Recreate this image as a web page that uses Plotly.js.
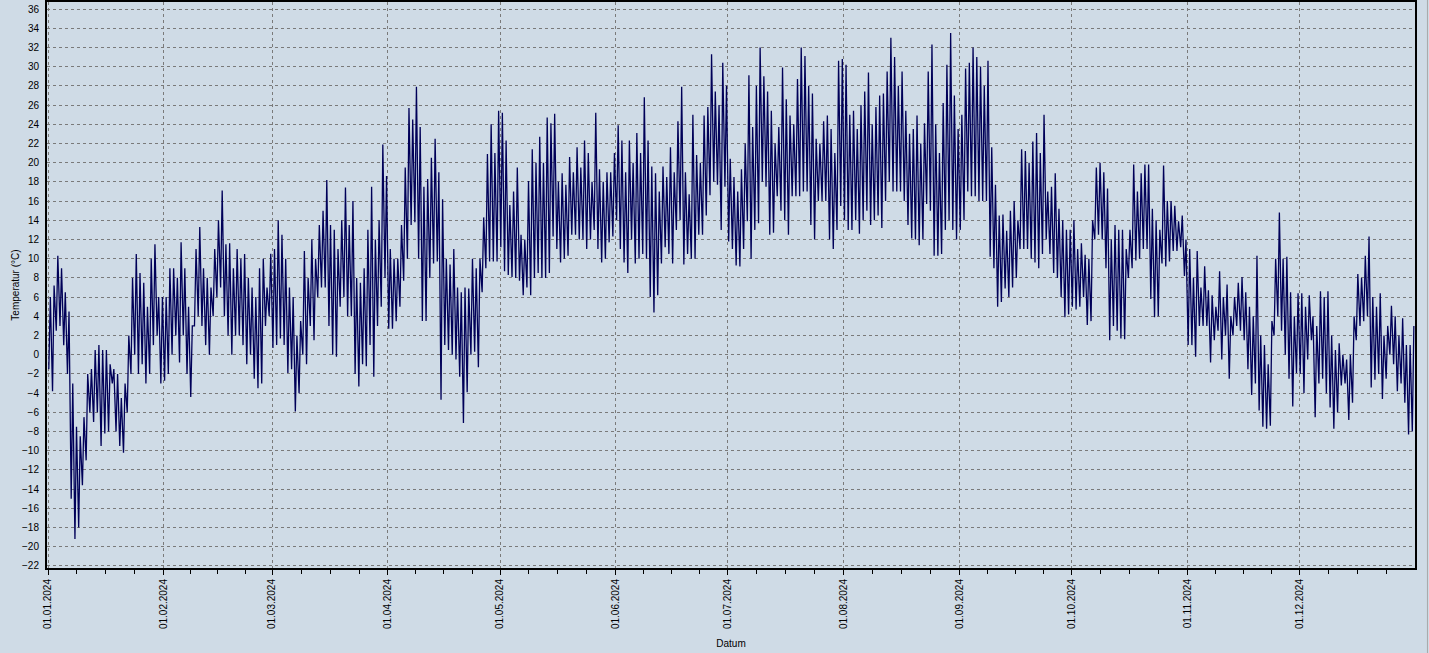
<!DOCTYPE html>
<html>
<head>
<meta charset="utf-8">
<script src="https://cdn.plot.ly/plotly-3.0.1.min.js"></script>
<style>
  html, body { margin: 0; padding: 0; background: #cfdbe6; }
  #chart { width: 1429px; height: 653px; }
</style>
</head>
<body>
<div id="chart"></div>
<script>
// Daily minimum / maximum temperatures (°C), 2024
const monthKeys = ['01','02','03','04','05','06','07','08','09','10','11','12'];
const tickLabels = ['01.01.2024','01.02.2024','01.03.2024','01.04.2024','01.05.2024','01.06.2024',
                    '01.07.2024','01.08.2024','01.09.2024','01.10.2024','01.11.2024','01.12.2024'];

const minJan = [-1.5,-3.8,2.5,3,1,-2,-15,-19.2,-18,-13.6,-11,-6,-7,-6,-9.5,-8.2,-8,-3,-8,-9.5,-10.2,-6,-2,0,-2,-1,-3,-2,1,2,-3];
const maxJan = [6,7.2,10.3,9,6.5,4.5,-3,-7.5,-8.5,-6.5,-2,-1.5,0.5,1,0.5,0.5,-1,-1.5,-2,-4.5,-3,2,8,10.5,8.5,7.5,5,10,11.5,6,6];
const minFeb = [-2.7,-2,0,2,-0.8,2,-2,-4.4,3,4,3,1,0,4,6,7,4,2,0,2,2,1,-1,0,-2.5,-3.5,-3,3,4];
const maxFeb = [6,9,9,8,11.7,9,5,3,11,13.3,9,8,7,11,14,17.1,11.5,11.6,9,11,10,10.5,8,7,6,9,10,7,10.5];
const minMar = [0.7,1,1.7,1,-1.9,-1.5,-5.9,-4,0,-1,3,1.5,6,7,7,3,0,-0.2,5,6,4,4,-2,-3.3,-1,-1.2,1,-2.3,3,5,8];
const maxMar = [11,14,12.5,10,7,6,2,3.5,10.8,8,12,10,13.5,15,18.2,13.5,13,11,14,17.4,13.5,16,8,7.5,9,13,17.5,12,14,21.9,18.6];
const minApr = [2.7,2.7,3.5,5,7.7,10,13.5,13.8,10,3.5,3.5,8,9.5,9.7,-4.7,1,0.5,0,-0.5,-2.3,-7.1,-3.9,0,0.3,-1.3,6.5,9,9.7,9.7,9.7];
const maxApr = [11,10,10,13.5,19.5,25.7,24.5,27.9,23.7,17.5,18.3,20.5,22.5,19,16.2,10,9.4,11,7,6.5,7,6.9,10,9,10,14.3,20.9,24,21,25.4];
const minMay = [11.2,8.7,8.3,8.1,8,7.7,6.2,7,6.2,8,8.5,8,8,8.5,12.3,11,9.6,10,10.3,12.5,12.5,12,12,11,12,13,11,9.6,10,11.7,12.3];
const maxMay = [25.2,22.3,15.6,17,19.5,12.5,12,18.1,21.4,20,22.7,20,24.7,24.1,25.1,18,18.9,17.7,20.6,19,21.6,19.5,22.3,21,18,25.2,19.3,18,19,19,21];
const minJun = [14,11,9.6,8.5,12,9.5,10,10.5,10,6,4.4,6.2,9.5,11.2,10.5,9.5,13,14,9.4,10.5,10,10,12.5,12.5,14.5,16.6,18,17.7,13,17.5];
const maxJun = [23.9,22.3,19,22.3,20,23.1,21,26.8,22.3,19.6,18.9,17,19.6,18.5,21.6,19,24.3,27.9,19,16.7,25,20.8,20,24.9,25.8,31.3,27.4,26,30.4,28];
const minJul = [11.8,11,9.3,9.2,11,13.9,10,13,13.7,18,17.5,12.5,12.7,16.5,15,14,12.5,16.5,16.5,16.5,17,17,13.5,12,16,16,16,12,11,13,15.5];
const maxJul = [20.4,18.5,17,19.3,22,29.1,23.7,28,32,29,27.4,25.4,22,23.7,29.9,26.6,24.9,24,28.7,32,31.1,28,27.2,22.5,22,24.3,24.9,23.5,21,30.6,30.8];
const minAug = [14,13,13,14,12.6,14,15,13.5,14,14.5,13.2,16,18,17,17,17,16,13.5,12.1,12,11.4,12,15.7,15,10.3,10.3,10.5,13,14,13,12];
const maxAug = [30.2,25,25.4,23.5,26,27.4,29.4,24,25.8,27,27.2,29.5,33,31,28,29.5,25.4,23,23.5,24.9,22,24.1,29.5,32.3,24,21,26.2,30.2,33.5,27,23.5];
const minSep = [13,14,17,16.5,16.5,16,16,16,10.2,9,5,5.5,6.9,6,7,8,11,11,11,10,9.6,9,10.5,12,10.5,8.5,8,6,3.9,4.2];
const maxSep = [25,29.8,30.4,32,31,30,28,30.6,21.6,17.7,14.5,14.6,12.9,15,16,14,21.4,21.2,20,22.2,23.1,21,25,17,17.5,18.9,15.2,14,13,13];
const minOct = [5,4.7,5,6,3.1,3.5,12,12.5,12,9,1.5,3,2.5,1.7,1.6,8,9,9.8,10,11,11,5.8,3.9,4,9.5,9.2,9.7,10.8,10.8,11.2,8.2];
const maxOct = [14,11,11.6,10.4,10,14,19.5,20,19,17.3,12,13.5,13,13,11,13,19.8,17,18.9,19.8,19.8,15.2,14,13,19.7,16,16,15.5,13.9,14.5,12];
const minNov = [1,1,-0.2,3,3,3,-0.8,1.5,2.5,-0.5,2,-2.5,2,3,2.5,1.5,-1.5,-4.2,-3,-5.8,-7.5,-7.7,-7.4,2,4,2.5,0,-2.5,-5.4,-1.9];
const maxNov = [11,8,10.8,7,9.2,6.7,6.2,5,8.7,6,7.3,4,6,7.5,8.1,6.5,5,4,10.3,2,1,-1,3.5,10,14.8,10,10.2,6.5,4,6.4];
const minDec = [-2,-4,-0.5,1.5,-6.5,-3,-2.5,-4,-5.5,-7.7,-6,-3.2,-3,-6.8,-5,1.5,3,3.5,4,-3.4,-2.6,-2,-4.6,-2.5,0,-1,-3.8,-3,-5,-8.3,-8];
const maxDec = [6.4,5,6.2,4,3,6.6,6,6.6,2,0.5,1.2,0,-0.5,0,4,8.4,8,10.3,12.3,6,5,6.4,2,3,5.1,4,2,3.8,1,1,3];

const mins = [minJan,minFeb,minMar,minApr,minMay,minJun,minJul,minAug,minSep,minOct,minNov,minDec];
const maxs = [maxJan,maxFeb,maxMar,maxApr,maxMay,maxJun,maxJul,maxAug,maxSep,maxOct,maxNov,maxDec];

const xs = [], ys = [];
mins.forEach((mArr, m) => {
  mArr.forEach((v, d) => {
    const dd = String(d + 1).padStart(2, '0');
    xs.push(`2024-${monthKeys[m]}-${dd} 05:00`); ys.push(v);
    xs.push(`2024-${monthKeys[m]}-${dd} 15:00`); ys.push(maxs[m][d]);
  });
});

const monthStarts = monthKeys.map(k => `2024-${k}-01`);
// minor ticks: quarter subdivisions of each month
const minorVals = [];
monthKeys.forEach((k, m) => {
  const start = new Date(Date.UTC(2024, m, 1));
  const end = new Date(Date.UTC(2024, m + 1, 1));
  const step = (end - start) / 4;
  for (let q = 1; q < 4; q++) {
    const t = new Date(start.getTime() + q * step);
    minorVals.push(t.toISOString().slice(0, 19).replace('T', ' '));
  }
});

const bg = '#cfdbe6';
const gridCol = '#7a7a7a';
const font = { family: 'Liberation Sans, Arial, sans-serif', size: 10, color: '#000' };

const trace = {
  type: 'scatter', mode: 'lines', x: xs, y: ys,
  line: { color: '#000058', width: 1.3 },
  hoverinfo: 'skip'
};

const layout = {
  width: 1429, height: 653,
  margin: { l: 47, r: 14, t: 2, b: 85 },
  paper_bgcolor: bg, plot_bgcolor: bg,
  font: font,
  showlegend: false,
  xaxis: {
    type: 'date',
    range: ['2023-12-31 17:30', '2024-12-31 22:20'],
    tickmode: 'array', tickvals: monthStarts, ticktext: tickLabels,
    tickangle: -90, ticks: 'outside', ticklen: 5, tickcolor: '#000',
    tickfont: { family: font.family, size: 10, color: '#000' },
    showgrid: true, gridcolor: gridCol, gridwidth: 1, griddash: '3px,3px',
    showline: true, linecolor: '#000', linewidth: 2, mirror: true,
    zeroline: false,
    minor: { tickmode: 'array', tickvals: minorVals, ticks: 'outside', ticklen: 4, tickcolor: '#000', showgrid: false },
    title: { text: 'Datum', font: { family: font.family, size: 10, color: '#000' }, standoff: 12 },
    automargin: false
  },
  yaxis: {
    range: [-22.21, 36.73],
    tick0: 0, dtick: 2,
    ticks: 'outside', ticklen: 4, tickcolor: 'rgba(0,0,0,0)',
    tickfont: { family: font.family, size: 10, color: '#000' },
    showgrid: true, gridcolor: gridCol, gridwidth: 1, griddash: '3px,3px',
    showline: true, linecolor: '#000', linewidth: 2, mirror: true,
    zeroline: false,
    title: { text: 'Temperatur (°C)', font: { family: font.family, size: 10, color: '#000' }, standoff: 1 },
    automargin: false
  },
  shapes: [
    { type: 'line', xref: 'paper', yref: 'paper', x0: 1.0091, x1: 1.0091, y0: -0.151, y1: 1.004,
      line: { color: '#a8a8a8', width: 1 } }
  ]
};

Plotly.newPlot('chart', [trace], layout, { displayModeBar: false, staticPlot: true });
</script>
</body>
</html>
